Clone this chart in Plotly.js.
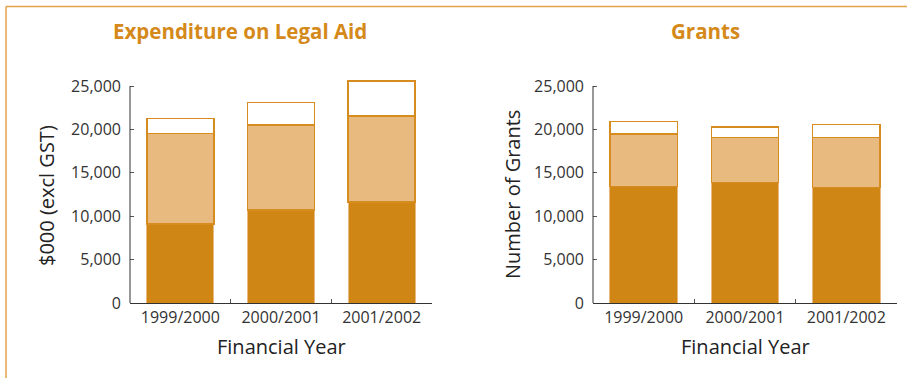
<!DOCTYPE html>
<html>
<head>
<meta charset="utf-8">
<script src="https://cdn.plot.ly/plotly-3.0.1.min.js"></script>
<style>html,body{margin:0;padding:0;background:#fff;}#chart{width:907px;height:378px;}</style>
</head>
<body>
<div id="chart"></div>
<script>
const categories = ["1999/2000", "2000/2001", "2001/2002"];
// Expenditure on Legal Aid ($000 excl GST): stacked segments
const expDark  = [9100, 10700, 11650];
const expLight = [10450, 9800, 9900];
const expTop   = [1700, 2600, 4050];
// Grants (number): stacked segments
const grDark  = [13400, 13900, 13300];
const grLight = [6050, 5150, 5750];
const grTop   = [1450, 1250, 1500];
const yTicks = [0, 5000, 10000, 15000, 20000, 25000];
const yTickText = ["0", "5,000", "10,000", "15,000", "20,000", "25,000"];
const yAxisMax = 25000;

const DARK = "#cf8614", LIGHT = "#e8ba80", EDGE = "#d68c1e", TITLE = "#d4891a";
const W = 907, H = 378;
const FONT = "Open Sans, DejaVu Sans, sans-serif";

function seg(y, xa, ya, fill, line, lw) {
  return {type: "bar", x: categories, y: y, xaxis: xa, yaxis: ya,
    marker: {color: fill, line: {color: line, width: lw}}, hoverinfo: "skip", showlegend: false};
}
const traces = [
  seg(expDark, "x", "y", DARK, LIGHT, 1),
  seg(expLight, "x", "y", LIGHT, EDGE, 1.5),
  seg(expTop, "x", "y", "#ffffff", EDGE, 1.5),
  seg(grDark, "x2", "y2", DARK, LIGHT, 1),
  seg(grLight, "x2", "y2", LIGHT, EDGE, 1.5),
  seg(grTop, "x2", "y2", "#ffffff", EDGE, 1.5)
];

// 0 at y=303px, 25000 at y=86px; range extended to 26000 so the tallest bar is not clipped
const pxPerUnit = (303 - 86) / 25000;
const yBottom = (H - 303) / H, yTopD = (H - (303 - 26000 * pxPerUnit)) / H;
function xax(d) {
  return {domain: d, type: "category", showline: true, linecolor: "#333", linewidth: 1,
    ticks: "inside", tickson: "boundaries", ticklen: 4, tickcolor: "#555",
    tickfont: {family: FONT, size: 16, color: "#333"}, showgrid: false, zeroline: false, fixedrange: true};
}
function yax(anchor) {
  return {domain: [yBottom, yTopD], range: [0, 26000], anchor: anchor, showline: false,
    ticks: "inside", ticklen: 4, tickcolor: "#555", tickvals: yTicks, ticktext: yTickText, ticklabelstandoff: 8,
    tickfont: {family: FONT, size: 16, color: "#333"}, showgrid: false, zeroline: false, fixedrange: true};
}
const x1 = [130 / W, 432 / W], x2 = [593 / W, 897 / W];

function ann(text, x, y, size, color, bold, angle) {
  return {text: bold ? "<b>" + text + "</b>" : text, xref: "paper", yref: "paper", x: x / W, y: 1 - y / H,
    xanchor: "center", yanchor: "middle", showarrow: false, textangle: angle || 0,
    font: {family: FONT, size: size, color: color}};
}

const layout = {
  width: W, height: H, margin: {l: 0, r: 0, t: 0, b: 0},
  paper_bgcolor: "#fff", plot_bgcolor: "rgba(0,0,0,0)",
  barmode: "stack", bargap: 0.335,
  xaxis: Object.assign(xax(x1), {anchor: "y"}),
  yaxis: yax("x"),
  xaxis2: Object.assign(xax(x2), {anchor: "y2"}),
  yaxis2: yax("x2"),
  annotations: [
    ann("Expenditure on Legal Aid", 240, 31, 20.5, TITLE, true),
    ann("Grants", 705, 31, 20.5, TITLE, true),
    ann("Financial Year", 281, 346, 20, "#222", false),
    ann("Financial Year", 745, 346, 20, "#222", false),
    ann("$000 (excl GST)", 46, 196, 20, "#222", false, -90),
    ann("Number of Grants", 512, 195, 20, "#222", false, -90)
  ],
  shapes: [
    {type: "line", xref: "x domain", yref: "y", x0: 0, x1: 0, y0: 0, y1: yAxisMax, line: {color: "#333", width: 1}},
    {type: "line", xref: "x2 domain", yref: "y2", x0: 0, x1: 0, y0: 0, y1: yAxisMax, line: {color: "#333", width: 1}},
    {type: "line", xref: "paper", yref: "paper", x0: 6 / W, x1: 1, y0: 1 - 6.5 / H, y1: 1 - 6.5 / H, line: {color: "#e3a34a", width: 1.5}},
    {type: "line", xref: "paper", yref: "paper", x0: 6 / W, x1: 6 / W, y0: 0, y1: 1 - 6.5 / H, line: {color: "#e3a34a", width: 1.5}}
  ]
};
Plotly.newPlot("chart", traces, layout, {displayModeBar: false, staticPlot: true});
</script>
</body>
</html>
